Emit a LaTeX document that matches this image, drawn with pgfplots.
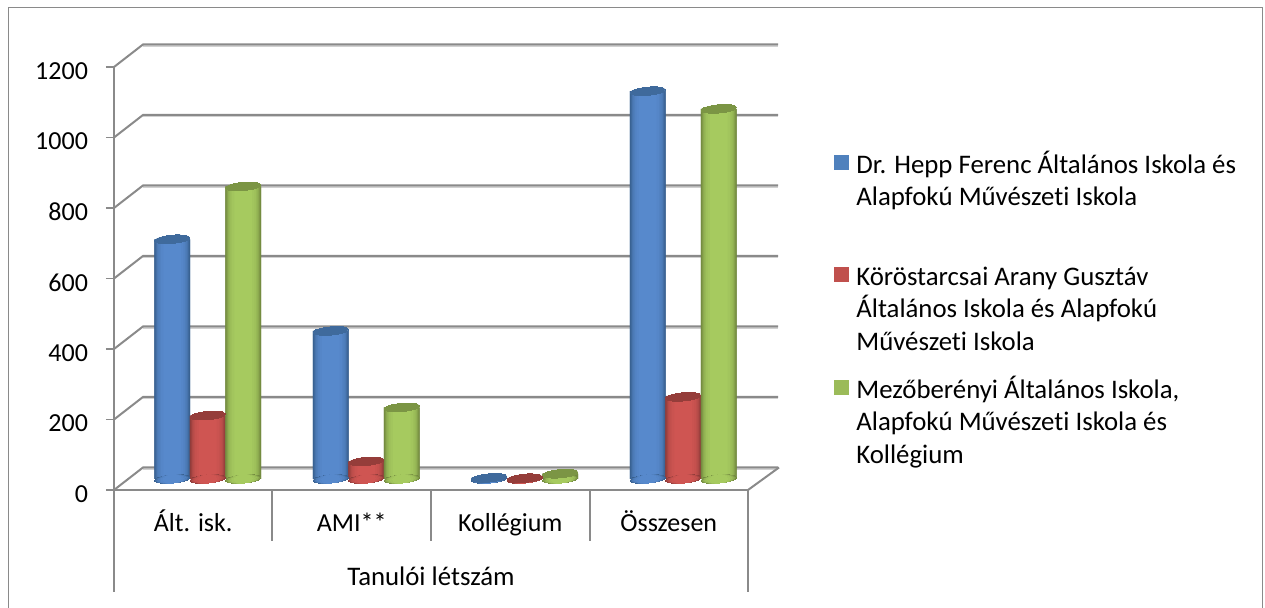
\documentclass[border=0pt]{standalone}
\usepackage{fontspec}
\setmainfont{Carlito}[Ligatures=NoCommon]
\usepackage{pgfplots}
\usepackage{pgfplotstable}
\pgfplotsset{compat=1.18}

\definecolor{gridc}{HTML}{8A8A8A}
\definecolor{blueE}{HTML}{38608F}
\definecolor{blueM}{HTML}{5789CC}
\definecolor{blueT}{HTML}{3F6A9C}
\definecolor{blueL}{HTML}{4F81BD}
\definecolor{redE}{HTML}{8E3B39}
\definecolor{redM}{HTML}{CF5552}
\definecolor{redT}{HTML}{953D3A}
\definecolor{redL}{HTML}{C0504D}
\definecolor{greenE}{HTML}{72893F}
\definecolor{greenM}{HTML}{A6CA5F}
\definecolor{greenT}{HTML}{7B9544}
\definecolor{greenL}{HTML}{9BBB59}

% 1 px of the reference = 0.5pt here
\pgfplotstableread{
x  hepp  arany  mezo
0  680   180    830
1  420   50     203
2  3     2      15
3  1100  233    1050
}\tanulok

% one nested band of a cylinder: column, bar shift, colour prefix, width factor, % of middle colour
\newcommand{\band}[5]{%
  \addplot[forget plot, ybar, bar width=#4*17.9pt, bar shift=#2, draw=none, xshift=7.25pt, yshift=5.5pt,
    fill=#3M!#5!#3E]
    table[x=x, y=#1] {\tanulok};
  \addplot[forget plot, only marks, mark=*, mark size=8.9pt, xshift=7.25pt+#2, yshift=5.5pt,
    mark options={draw=#3M!#5!#3E, line width=0pt, fill=#3M!#5!#3E, rotate=5, xscale=#4, yscale=0.23}]
    table[x=x, y expr=0] {\tanulok};
}
% one cylinder series: column, bar shift, colour prefix
\newcommand{\cylinders}[3]{%
  \addplot[ybar, bar width=17.9pt, bar shift=#2, draw=none, xshift=7.25pt, yshift=5.5pt,
    fill=#3E,
    legend image code/.code={\fill[#3L] (0pt,-4pt) rectangle (7.5pt,3.5pt);}]
    table[x=x, y=#1] {\tanulok};
  \band{#1}{#2}{#3}{1.0}{0}
  \band{#1}{#2}{#3}{0.96}{15}
  \band{#1}{#2}{#3}{0.92}{30}
  \band{#1}{#2}{#3}{0.88}{45}
  \band{#1}{#2}{#3}{0.84}{60}
  \band{#1}{#2}{#3}{0.79}{72}
  \band{#1}{#2}{#3}{0.72}{84}
  \band{#1}{#2}{#3}{0.62}{93}
  \band{#1}{#2}{#3}{0.5}{100}
  \addplot[forget plot, only marks, mark=*, mark size=8.9pt, xshift=7.25pt+#2, yshift=5.5pt,
    mark options={draw=#3T, line width=0pt, fill=#3T, rotate=5, yscale=0.23}]
    table[x=x, y=#1] {\tanulok};
}
\newcommand{\entry}[1]{\parbox[t][56.25pt][t]{200pt}{\rule{0pt}{11pt}#1}}

\begin{document}
\begin{tikzpicture}
\useasboundingbox (0,0) rectangle (632.5pt,304pt);
\draw[gridc, line width=0.5pt] (4pt,0) -- (4pt,300pt) -- (631pt,300pt) -- (631pt,0);
\begin{axis}[
    at={(57pt,59pt)}, anchor=south west,
    scale only axis, width=317pt, height=211.5pt,
    xmin=-0.5, xmax=3.5, ymin=0, ymax=1200,
    clip=false,
    axis x line*=bottom, axis y line*=left,
    axis line style={gridc, line width=1pt, -},
    tick style={gridc, line width=0.8pt},
    tick align=outside, major tick length=4pt,
    xtick={0,1,2,3},
    xticklabels={Ált. isk.,AMI**,Kollégium,Összesen},
    x tick style={draw=none},
    ytick={0,200,...,1200},
    /pgf/number format/assume math mode=true,
    /pgf/number format/1000 sep={},
    tick label style={font=\fontsize{13}{16}\selectfont},
    y tick label style={xshift=-5.5pt, yshift=-2pt},
    x tick label style={yshift=-4pt, text height=9pt, text depth=2.5pt},
    xlabel={Tanulói létszám},
    xlabel style={font=\fontsize{13.4}{16}\selectfont, yshift=-8.5pt},
    legend style={at={(1.1356,0.803)}, anchor=north west, draw=none, fill=none,
      inner sep=0pt, row sep=0pt, font=\fontsize{13.4}{16.25}\selectfont,
      nodes={inner sep=0pt, text depth={}},
      cells={anchor=base west},
      /tikz/column 1/.style={column sep=3.5pt}},
]
% back wall and side lines
\pgfplotsinvokeforeach{0,200,...,1200}{
  \draw[black!18, line width=0.7pt] (axis cs:-0.5,#1) ++(14.5pt,10.5pt) -- ++(317.5pt,0pt);
  \draw[gridc, line width=1pt] (axis cs:-0.5,#1) -- ++(14.5pt,11.25pt) -- ++(317.5pt,0pt);
}
\draw[gridc, line width=1pt] (axis cs:3.5,0) -- ++(15.5pt,11.25pt);
% category separators
\pgfplotsinvokeforeach{0.5,1.5,2.5}{
  \draw[gridc, line width=1pt] (axis cs:#1,0) -- ++(0pt,-25.5pt);
}
\draw[gridc, line width=1pt] (axis cs:-0.5,0) -- ++(0pt,-51pt);
\draw[gridc, line width=1pt] (axis cs:3.5,0) -- ++(0pt,-51pt);

\cylinders{hepp}{-17.75pt}{blue}
\addlegendentry{\entry{Dr. Hepp Ferenc Általános Iskola és\\Alapfokú Művészeti Iskola}}
\cylinders{arany}{0pt}{red}
\addlegendentry{\entry{Köröstarcsai Arany Gusztáv\\Általános Iskola és Alapfokú\\Művészeti Iskola}}
\cylinders{mezo}{17.75pt}{green}
\addlegendentry{\entry{Mezőberényi Általános Iskola,\\Alapfokú Művészeti Iskola és\\Kollégium}}
\end{axis}
\end{tikzpicture}
\end{document}
